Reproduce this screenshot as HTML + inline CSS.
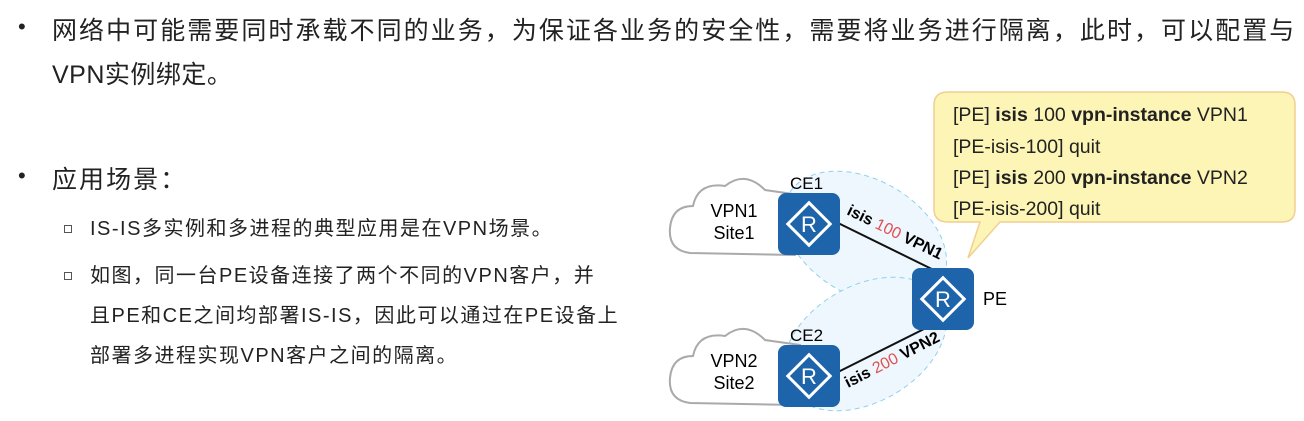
<!DOCTYPE html>
<html><head><meta charset="utf-8"><style>
body{margin:0;width:1304px;height:421px;background:#fff;position:relative;overflow:hidden;font-family:"Liberation Sans","Noto Sans CJK SC",sans-serif;color:#222}
.t{position:absolute;white-space:nowrap}
.l1{font-size:25px;letter-spacing:2.05px}
.l2{font-size:20px;letter-spacing:1.5px}
.b{position:absolute;font-size:22px}
.sq{position:absolute;width:6px;height:6px;border:1px solid #555}
</style></head><body>
<div class="b" style="left:18px;top:14px">•</div>
<div class="t l1" style="left:52px;top:11px">网络中可能需要同时承载不同的业务，为保证各业务的安全性，需要将业务进行隔离，此时，可以配置与</div>
<div class="t l1" style="left:52px;top:55px;letter-spacing:0.5px">VPN实例绑定。</div>
<div class="b" style="left:18px;top:163px">•</div>
<div class="t l1" style="left:52px;top:160px">应用场景：</div>
<div class="sq" style="left:64px;top:225px"></div>
<div class="t l2" style="left:90px;top:212px">IS-IS多实例和多进程的典型应用是在VPN场景。</div>
<div class="sq" style="left:64px;top:272px"></div>
<div class="t l2" style="left:90px;top:259px">如图，同一台PE设备连接了两个不同的VPN客户，并</div>
<div class="t l2" style="left:90px;top:299px">且PE和CE之间均部署IS-IS，因此可以通过在PE设备上</div>
<div class="t l2" style="left:90px;top:339px">部署多进程实现VPN客户之间的隔离。</div>
<svg width="1304" height="421" style="position:absolute;left:0;top:0" font-family="Liberation Sans, sans-serif">
<defs><g id="r"><rect x="0" y="0" width="62" height="62" rx="8" fill="#1e64aa"/><rect x="16" y="16" width="30" height="30" transform="rotate(45 31 31)" fill="none" stroke="#fff" stroke-width="3"/><text x="31" y="39" font-size="22" fill="#fff" text-anchor="middle">R</text></g></defs>
<ellipse cx="865" cy="238" rx="88" ry="58" transform="rotate(30 865 238)" fill="#eef7fd" stroke="#8fd0ee" stroke-dasharray="5,4"/>
<ellipse cx="865" cy="344" rx="88" ry="58" transform="rotate(-30 865 344)" fill="#eef7fd" stroke="#8fd0ee" stroke-dasharray="5,4"/>
<path d="M690 253 Q668 250 670 228 Q672 206 693 206 Q698 182 725 186 Q745 170 765 190 L800 195 L800 250 L795 255 Z" fill="#fff" stroke="#aaa" stroke-width="2"/>
<path d="M690 403 Q668 400 670 378 Q672 356 693 356 Q698 332 725 336 Q745 320 765 340 L800 345 L800 400 L795 405 Z" fill="#fff" stroke="#aaa" stroke-width="2"/>
<text x="734" y="217" font-size="18" text-anchor="middle">VPN1</text><text x="734" y="239" font-size="18" text-anchor="middle">Site1</text>
<text x="734" y="367" font-size="18" text-anchor="middle">VPN2</text><text x="734" y="389" font-size="18" text-anchor="middle">Site2</text>
<line x1="836" y1="222" x2="946" y2="276" stroke="#111" stroke-width="2"/>
<line x1="836" y1="373" x2="946" y2="318" stroke="#111" stroke-width="2"/>
<use href="#r" x="778" y="193"/><use href="#r" x="778" y="345"/><use href="#r" x="912" y="268"/>
<text x="790" y="189" font-size="17">CE1</text><text x="790" y="341" font-size="17">CE2</text><text x="983" y="305" font-size="18">PE</text>
<text transform="translate(846 214) rotate(26)" font-size="16" font-weight="bold">isis <tspan fill="#e05050" font-weight="normal">100</tspan> VPN1</text>
<text transform="translate(848 388) rotate(-27)" font-size="16" font-weight="bold">isis <tspan fill="#e05050" font-weight="normal">200</tspan> VPN2</text>
<path d="M948 92 H1282 Q1295 92 1295 105 V209 Q1295 222 1282 222 H1000 L968 258 L980 222 H948 Q934 222 934 209 V105 Q934 92 948 92 Z" fill="#fdf5b6" stroke="#f2cf90" stroke-width="1.5"/>
<g font-size="19.5" fill="#222">
<text x="953" y="121">[PE] <tspan font-weight="bold">isis</tspan> 100 <tspan font-weight="bold">vpn-instance</tspan> VPN1</text>
<text x="953" y="153">[PE-isis-100] quit</text>
<text x="953" y="184">[PE] <tspan font-weight="bold">isis</tspan> 200 <tspan font-weight="bold">vpn-instance</tspan> VPN2</text>
<text x="953" y="215">[PE-isis-200] quit</text>
</g>
</svg>
</body></html>
